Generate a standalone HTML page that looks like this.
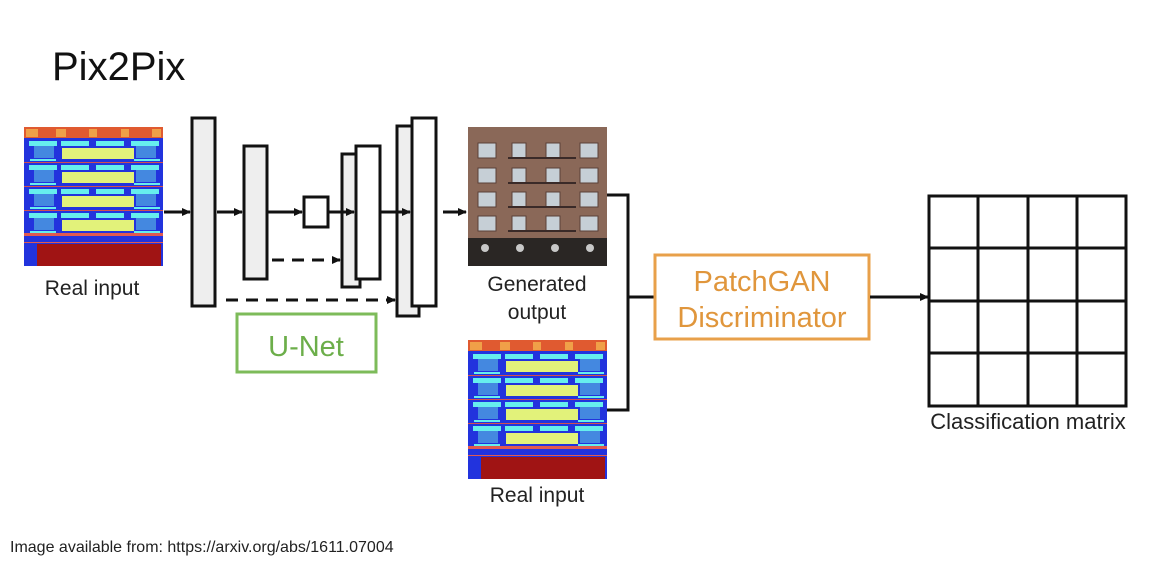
<!DOCTYPE html>
<html><head><meta charset="utf-8"><style>
html,body{margin:0;padding:0;background:#fff;}
body{width:1166px;height:569px;overflow:hidden;font-family:"Liberation Sans",sans-serif;}
</style></head><body>
<svg width="1166" height="569" viewBox="0 0 1166 569" xmlns="http://www.w3.org/2000/svg">
<defs>
<g id="fac">
<rect x="0" y="0" width="139" height="139" fill="#2233dd"/>
<rect x="0" y="0" width="139" height="11" fill="#e05a30"/>
<rect x="2" y="2" width="12" height="8" fill="#f0a048"/>
<rect x="32" y="2" width="10" height="8" fill="#f0a048"/>
<rect x="65" y="2" width="8" height="8" fill="#f0a048"/>
<rect x="97" y="2" width="8" height="8" fill="#f0a048"/>
<rect x="128" y="2" width="9" height="8" fill="#f0a048"/>
<g id="fl">
<rect x="5" y="14" width="28" height="5" fill="#66eeee"/>
<rect x="37" y="14" width="28" height="5" fill="#66eeee"/>
<rect x="72" y="14" width="28" height="5" fill="#66eeee"/>
<rect x="107" y="14" width="28" height="5" fill="#66eeee"/>
<rect x="10" y="19" width="20" height="12" fill="#4488e0"/>
<rect x="112" y="19" width="20" height="12" fill="#4488e0"/>
<rect x="38" y="21" width="72" height="11" fill="#e2f27a"/>
<rect x="6" y="32" width="26" height="2" fill="#66eeee"/>
<rect x="110" y="32" width="26" height="2" fill="#66eeee"/>
<rect x="0" y="35" width="139" height="1" fill="#d05050"/>
</g>
<use href="#fl" y="24"/>
<use href="#fl" y="48"/>
<use href="#fl" y="72"/>
<rect x="0" y="106" width="139" height="3" fill="#e05a50"/>
<rect x="0" y="115" width="139" height="1" fill="#e05a50"/>
<rect x="13" y="117" width="124" height="22" fill="#a01414"/>
</g>
<marker id="ah" markerWidth="10" markerHeight="10" refX="8" refY="5" orient="auto" markerUnits="userSpaceOnUse"><path d="M0,1 L9,5 L0,9 Z" fill="#111"/></marker>
</defs>
<text x="52" y="80" font-size="40" fill="#111">Pix2Pix</text>
<use href="#fac" x="24" y="127"/>
<text x="92" y="295" font-size="21" text-anchor="middle" fill="#222">Real input</text>

<g stroke="#111" stroke-width="3" fill="#eee">
<rect x="192" y="118" width="23" height="188"/>
<rect x="244" y="146" width="23" height="133"/>
<rect x="304" y="197" width="24" height="30" fill="#fff"/>
<rect x="342" y="154" width="18" height="133"/>
<rect x="356" y="146" width="24" height="133" fill="#fff"/>
<rect x="397" y="126" width="22" height="190"/>
<rect x="412" y="118" width="24" height="188" fill="#fff"/>
</g>
<g stroke="#111" stroke-width="3" marker-end="url(#ah)">
<line x1="164" y1="212" x2="190" y2="212"/>
<line x1="217" y1="212" x2="242" y2="212"/>
<line x1="268" y1="212" x2="302" y2="212"/>
<line x1="329" y1="212" x2="354" y2="212"/>
<line x1="381" y1="212" x2="410" y2="212"/>
<line x1="443" y1="212" x2="466" y2="212"/>
<line x1="272" y1="260" x2="340" y2="260" stroke-dasharray="12,8"/>
<line x1="226" y1="300" x2="395" y2="300" stroke-dasharray="12,8"/>
</g>
<rect x="237" y="314" width="139" height="58" fill="#fff" stroke="#7dbb5a" stroke-width="3"/>
<text x="306" y="356" font-size="29" text-anchor="middle" fill="#6cae4a">U-Net</text>

<rect x="468" y="127" width="139" height="139" fill="#8a6858"/>
<g fill="#c6cfd6" stroke="#5a4038" stroke-width="1">
<rect x="478" y="143" width="18" height="15"/><rect x="512" y="143" width="14" height="15"/><rect x="546" y="143" width="14" height="15"/><rect x="580" y="143" width="18" height="15"/>
<rect x="478" y="168" width="18" height="15"/><rect x="512" y="168" width="14" height="15"/><rect x="546" y="168" width="14" height="15"/><rect x="580" y="168" width="18" height="15"/>
<rect x="478" y="192" width="18" height="15"/><rect x="512" y="192" width="14" height="15"/><rect x="546" y="192" width="14" height="15"/><rect x="580" y="192" width="18" height="15"/>
<rect x="478" y="216" width="18" height="15"/><rect x="512" y="216" width="14" height="15"/><rect x="546" y="216" width="14" height="15"/><rect x="580" y="216" width="18" height="15"/>
</g>
<g stroke="#3a2a28" stroke-width="2"><line x1="508" y1="158" x2="576" y2="158"/><line x1="508" y1="183" x2="576" y2="183"/><line x1="508" y1="207" x2="576" y2="207"/><line x1="508" y1="231" x2="576" y2="231"/></g>
<rect x="468" y="238" width="139" height="28" fill="#2a2624"/>
<g fill="#c8c8c8"><circle cx="485" cy="248" r="4"/><circle cx="520" cy="248" r="4"/><circle cx="555" cy="248" r="4"/><circle cx="590" cy="248" r="4"/></g>
<text x="537" y="291" font-size="21" text-anchor="middle" fill="#222">Generated</text>
<text x="537" y="319" font-size="21" text-anchor="middle" fill="#222">output</text>

<use href="#fac" x="468" y="340"/>
<text x="537" y="502" font-size="21" text-anchor="middle" fill="#222">Real input</text>

<polyline points="607,195 628,195 628,410 607,410" fill="none" stroke="#111" stroke-width="3"/>
<line x1="628" y1="297" x2="654" y2="297" stroke="#111" stroke-width="3"/>
<rect x="655" y="255" width="214" height="84" fill="#fff" stroke="#e8a04a" stroke-width="3"/>
<text x="762" y="291" font-size="29" text-anchor="middle" fill="#e0963c">PatchGAN</text>
<text x="762" y="327" font-size="29" text-anchor="middle" fill="#e0963c">Discriminator</text>
<line x1="870" y1="297" x2="928" y2="297" stroke="#111" stroke-width="3" marker-end="url(#ah)"/>

<g stroke="#111" stroke-width="3" fill="none">
<rect x="929" y="196" width="197" height="210"/>
<line x1="978" y1="196" x2="978" y2="406"/><line x1="1028" y1="196" x2="1028" y2="406"/><line x1="1077" y1="196" x2="1077" y2="406"/>
<line x1="929" y1="248" x2="1126" y2="248"/><line x1="929" y1="301" x2="1126" y2="301"/><line x1="929" y1="353" x2="1126" y2="353"/>
</g>
<text x="1028" y="429" font-size="22" text-anchor="middle" fill="#222">Classification matrix</text>
<text x="10" y="552" font-size="16" fill="#222">Image available from: https://arxiv.org/abs/1611.07004</text>
</svg>
</body></html>
